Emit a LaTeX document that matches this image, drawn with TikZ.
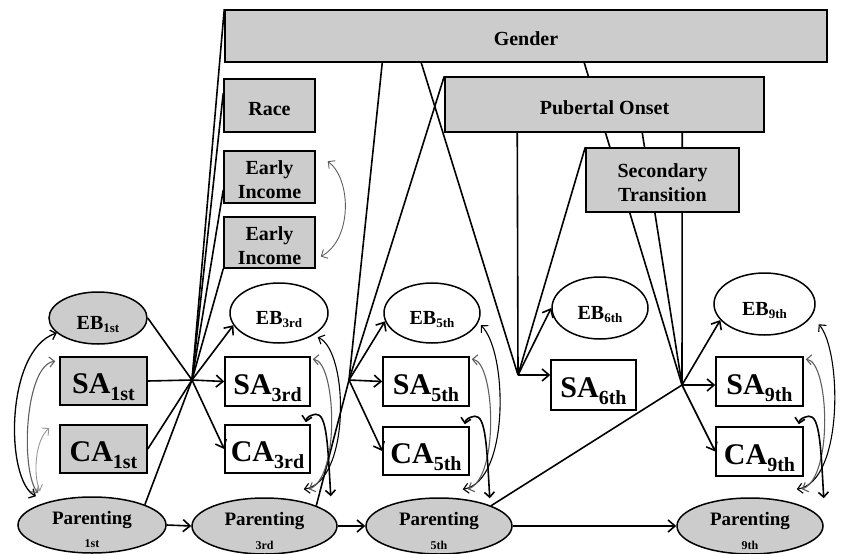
\documentclass[tikz,border=0pt]{standalone}
\usepackage{fontspec}
\setmainfont{Liberation Serif}
\usetikzlibrary{arrows.meta,shapes.geometric,calc}
\pgfdeclarelayer{bg}
\pgfsetlayers{bg,main}
\definecolor{boxgray}{RGB}{204,204,204}
\definecolor{midgray}{RGB}{95,95,95}
\definecolor{ltgray}{RGB}{150,150,150}
\newcommand\vlab[5]{{\fontsize{#3}{#3}\selectfont #1}\raisebox{-#5pt}{\fontsize{#4}{#4}\selectfont #2}}
\begin{document}
\begin{tikzpicture}[x=1pt,y=-1pt,
  base/.style={draw, line width=1.5pt, inner sep=0pt, font=\bfseries},
  gbox/.style={base, rectangle, fill=boxgray, font=\bfseries\fontsize{20}{24}\selectfont, text height=19pt, text depth=0pt},
  gboxtwo/.style={base, rectangle, fill=boxgray, align=center, font=\bfseries\fontsize{20}{24}\selectfont},
  gvar/.style={base, rectangle, fill=boxgray, text height=25pt, text depth=0pt},
  wvar/.style={base, rectangle, fill=white, text height=25pt, text depth=0pt},
  gell/.style={base, ellipse, fill=boxgray, text height=23pt, text depth=0pt},
  well/.style={base, ellipse, fill=white, text height=23pt, text depth=0pt},
  parell/.style={base, ellipse, fill=boxgray, minimum width=146pt, minimum height=56pt,
     font=\bfseries\fontsize{19}{19}\selectfont, text height=13pt, text depth=15pt},
  plab/.style={font=\bfseries\fontsize{12}{12}\selectfont, inner sep=0pt},
  link/.style={line width=1.6pt},
  arr/.style={link, -{Straight Barb[length=7pt,width=12pt]}},
  cor/.style={line width=1.1pt, {Straight Barb[length=5pt,width=10pt]}-{Straight Barb[length=5pt,width=10pt]}},
]
\useasboundingbox (0,0) rectangle (846,554);

% covariate boxes
\node[gbox, minimum width=602pt, minimum height=52pt] (gender) at (526,36) {Gender};
\node[gbox, minimum width=91pt, minimum height=53pt] (race) at (269.5,105.5) {Race};
\node[gboxtwo, minimum width=91pt, minimum height=52pt] (ei1) at (269.5,177) {\rule{0pt}{20pt}Early\\Income};
\node[gboxtwo, minimum width=91pt, minimum height=51pt] (ei2) at (269.5,242.5) {\rule{0pt}{20pt}Early\\Income};
\node[gbox, minimum width=319pt, minimum height=55pt] (po) at (604.5,104.5) {Pubertal Onset};
\node[gboxtwo, minimum width=153pt, minimum height=64pt] (st) at (662.5,180) {\rule{0pt}{20pt}Secondary\\Transition};

% 1st
\node[gell, minimum width=98pt, minimum height=52pt] (eb1) at (98,318) {\vlab{EB}{1st}{20}{13}{3}};
\node[gvar, minimum width=87pt, minimum height=48pt] (sa1) at (103.5,381) {\vlab{SA}{1st}{30}{20}{7}};
\node[gvar, minimum width=87pt, minimum height=48pt] (ca1) at (103.5,449) {\vlab{CA}{1st}{30}{20}{7}};
\node[parell, minimum width=148pt, label={[plab,label distance=-14pt]below:1st}] (par1) at (92,525) {Parenting};

% 3rd
\node[well, minimum width=98pt, minimum height=60pt] (eb3) at (279,313) {\vlab{EB}{3rd}{20}{13}{3}};
\node[wvar, minimum width=85pt, minimum height=49pt] (sa3) at (267.5,381.5) {\vlab{SA}{3rd}{30}{20}{7}};
\node[wvar, minimum width=85pt, minimum height=48pt] (ca3) at (267.5,449) {\vlab{CA}{3rd}{30}{20}{7}};
\node[parell, minimum width=145pt, label={[plab,label distance=-14pt]below:3rd}] (par3) at (264.5,526) {Parenting};

% 5th
\node[well, minimum width=96pt, minimum height=60pt] (eb5) at (432,313) {\vlab{EB}{5th}{20}{13}{3}};
\node[wvar, minimum width=86pt, minimum height=49pt] (sa5) at (426,381.5) {\vlab{SA}{5th}{30}{20}{7}};
\node[wvar, minimum width=86pt, minimum height=48pt] (ca5) at (426,451) {\vlab{CA}{5th}{30}{20}{7}};
\node[parell, label={[plab,label distance=-14pt]below:5th}] (par5) at (439,526) {Parenting};

% 6th
\node[well, minimum width=96pt, minimum height=62pt] (eb6) at (600,308) {\vlab{EB}{6th}{20}{13}{3}};
\node[wvar, minimum width=85pt, minimum height=50pt] (sa6) at (593.5,385) {\vlab{SA}{6th}{30}{20}{7}};

% 9th
\node[well, minimum width=101pt, minimum height=62pt] (eb9) at (764.5,304) {\vlab{EB}{9th}{20}{13}{3}};
\node[wvar, minimum width=87pt, minimum height=49pt] (sa9) at (759.5,381.5) {\vlab{SA}{9th}{30}{20}{7}};
\node[wvar, minimum width=87pt, minimum height=49pt] (ca9) at (759.5,451.5) {\vlab{CA}{9th}{30}{20}{7}};
\node[parell, label={[plab,label distance=-14pt]below:9th}] (par9) at (750,526) {Parenting};

% hubs
\coordinate (h1) at (192,380);
\coordinate (h3) at (349,380);
\coordinate (h5) at (518,375);
\coordinate (h6) at (682,385);

\begin{pgfonlayer}{bg}
  % into hub 1
  \draw[link] (eb1.east) -- (h1);
  \draw[link] (sa1.east) -- (h1);
  \draw[link] (ca1.east) -- (h1);
  \draw[link] (par1.north east) -- (h1);
  \draw[link] (gender.north west) -- (h1);
  \draw[link] ($(race.north west)!0.27!(race.south west)$) -- (h1);
  \draw[link] ($(ei1.west)+(0,13)$) -- (h1);
  \draw[link] (ei2.south west) -- (h1);
  % into hub 3
  \draw[link] ($(gender.south west)+(158,0)$) -- (h3);
  \draw[link] (po.north west) -- (h3);
  \draw[link] (par3.north east) -- (h3);
  % into hub 5
  \draw[link] ($(gender.south west)+(197,0)$) -- (h5);
  \draw[link] ($(po.south west)+(73,0)$) -- (h5);
  \draw[link] (st.north west) -- (h5);
  % into hub 6
  \draw[link] ($(gender.south west)+(360,0)$) -- (h6);
  \draw[link] ($(po.south west)+(198,0)$) -- (h6);
  \draw[link] ($(po.south west)+(238,0)$) -- (h6);
  \draw[link] (par5.north east) -- (h6);
\end{pgfonlayer}

% arrows out of hubs
\draw[arr] (h1) -- (eb3.195);
\draw[arr] (h1) -- (sa3.west);
\draw[arr] (h1) -- (ca3.west);
\draw[arr] (h3) -- (eb5.190);
\draw[arr] (h3) -- (sa5.west);
\draw[arr] (h3) -- (ca5.west);
\draw[arr] (h5) -- (eb6.west);
\draw[arr] (h5) -- (h5 -| sa6.west);
\draw[arr] (h6) -- (eb9.200);
\draw[arr] (h6) -- (h6 -| sa9.west);
\draw[arr] (h6) -- (ca9.west);

% parenting chain
\draw[arr] (par1.east) -- (par3.west);
\draw[arr] (par3.east) -- (par5.west);
\draw[arr] (par5.east) -- (par9.west);

% correlations, 1st wave
\draw[cor, line width=1.3pt] (eb1.200) .. controls (5,350) and (5,480) .. ($(par1.north)+(-56,0)$);
\draw[cor, draw=midgray] ($(sa1.north west)+(-4,5)$) .. controls (25,365) and (20,470) .. ($(par1.north)+(-54,-3)$);
\draw[cor, draw=ltgray, line width=0.9pt] ($(ca1.north west)+(-10,4)$) .. controls (35,440) and (33,475) .. ($(par1.north)+(-52,-5)$);
% early income
\draw[cor, draw=midgray, line width=0.9pt] ($(ei1.north east)+(12,11)$) .. controls (352,180) and (352,240) .. ($(ei2.east)+(5,14)$);

% correlations, later waves
\foreach \w/\ex/\ey in {3/7/-19, 5/11/-31, 9/15/-32} {
  \draw[cor] ($(sa\w.north east)+(\ex,\ey)$) .. controls ($(sa\w.north east)+(38,-5)$) and ($(sa\w.north east)+(40,125)$) .. ($(sa\w.north east)+(-7,133)$);
  \draw[cor, draw=midgray] ($(sa\w.north east)+(2,3)$) .. controls ($(sa\w.north east)+(25,5)$) and ($(sa\w.north east)+(30,120)$) .. ($(sa\w.north east)+(-2,133)$);
  \draw[cor, line width=1.6pt] ($(ca\w.north east)+(20,72)$) .. controls ($(ca\w.north east)+(17,20)$) and ($(ca\w.north east)+(16,-11)$) .. ($(ca\w.north east)+(5,-10)$) .. controls ($(ca\w.north east)+(-1,-9)$) and ($(ca\w.north east)+(-4,-7)$) .. ($(ca\w.north east)+(-5,-2)$);
}
\end{tikzpicture}
\end{document}
